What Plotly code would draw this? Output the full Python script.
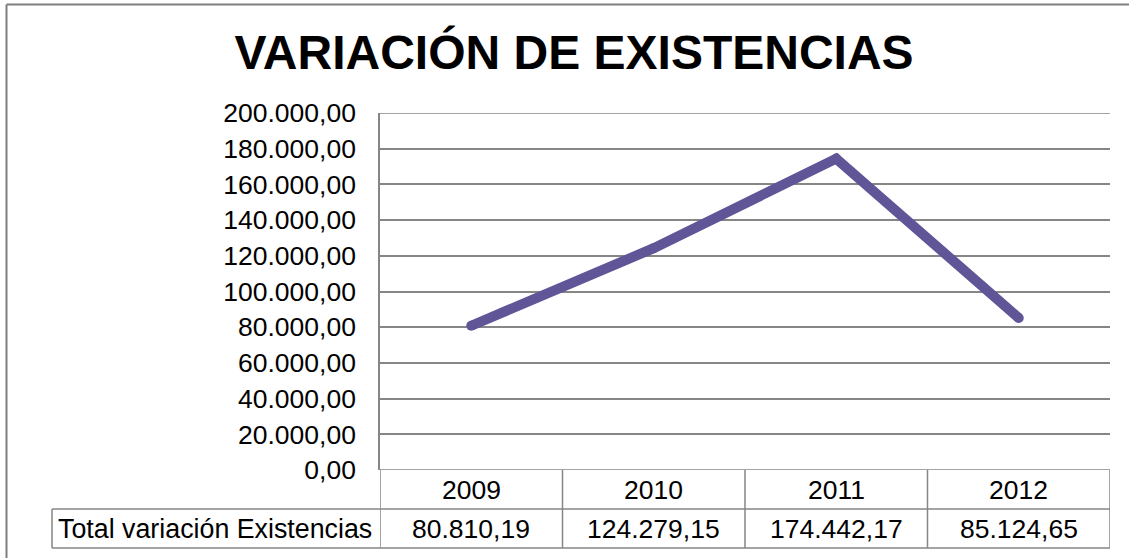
import plotly.graph_objects as go

# Datos
years = ['2009', '2010', '2011', '2012']
valores = [80810.19, 124279.15, 174442.17, 85124.65]
serie = 'Total variación Existencias'
y_ticks = list(range(0, 200001, 20000))

W, H = 1129, 558
GRID = '#868686'
FONT = 'Liberation Sans, Arial, sans-serif'


def px_x(x):
    return x / W


def px_y(y):
    return 1 - y / H


def es(v):
    # formato español 1.234,56
    return f'{v:,.2f}'.replace(',', '_').replace('.', ',').replace('_', '.')


fig = go.Figure()
fig.add_trace(go.Scatter(
    x=years, y=valores, mode='lines+markers', name=serie,
    line=dict(color='#5F5597', width=10),
    marker=dict(color='#5F5597', size=10),
    hoverinfo='skip'
))

shapes = []
# líneas de cuadrícula en los extremos (plotly no las dibuja en el borde)
for yv in (y_ticks[0], y_ticks[-1]):
    shapes.append(dict(type='line', xref='paper', yref='y', x0=px_x(380), x1=px_x(1110),
                       y0=yv, y1=yv, layer='below', line=dict(color=GRID, width=1.5)))
# tabla de datos bajo el eje
for i in range(len(years) + 1):
    shapes.append(dict(type='line', xref='x', yref='paper', x0=i - 0.5, x1=i - 0.5,
                       y0=px_y(470), y1=px_y(548), line=dict(color=GRID, width=1.5)))
for yy in (509, 548):
    shapes.append(dict(type='line', xref='paper', yref='paper', x0=px_x(52), x1=px_x(1110),
                       y0=px_y(yy), y1=px_y(yy), line=dict(color=GRID, width=1.5)))
shapes.append(dict(type='line', xref='paper', yref='paper', x0=px_x(52), x1=px_x(52),
                   y0=px_y(509), y1=px_y(548), line=dict(color=GRID, width=1.5)))
# borde exterior (solo arriba e izquierda visibles)
shapes.append(dict(type='line', xref='paper', yref='paper', x0=px_x(6.5), x1=1,
                   y0=px_y(4.5), y1=px_y(4.5), line=dict(color='#7f7f7f', width=2)))
shapes.append(dict(type='line', xref='paper', yref='paper', x0=px_x(6.5), x1=px_x(6.5),
                   y0=px_y(4.5), y1=0, line=dict(color='#7f7f7f', width=2)))

annotations = []
for i, (yr, v) in enumerate(zip(years, valores)):
    annotations.append(dict(x=i, xref='x', yref='paper', y=px_y(490), text=yr, showarrow=False,
                            font=dict(size=26.5, color='black', family=FONT), yanchor='middle'))
    annotations.append(dict(x=i, xref='x', yref='paper', y=px_y(528.5), text=es(v), showarrow=False,
                            font=dict(size=26.5, color='black', family=FONT), yanchor='middle'))
annotations.append(dict(x=px_x(215), xref='paper', yref='paper', y=px_y(528.5), text=serie,
                        showarrow=False, xanchor='center', yanchor='middle',
                        font=dict(size=26.8, color='black', family=FONT)))

fig.update_layout(
    width=W, height=H,
    margin=dict(l=0, r=0, t=0, b=0, autoexpand=False),
    paper_bgcolor='white', plot_bgcolor='white',
    separators=',.',
    showlegend=False,
    title=dict(text='<b>VARIACIÓN DE EXISTENCIAS</b>', x=px_x(574), xanchor='center',
               y=px_y(52), yanchor='middle', font=dict(size=48, color='black', family=FONT)),
    xaxis=dict(domain=[px_x(380), px_x(1110)], range=[-0.5, 3.5], type='category',
               showticklabels=False, showgrid=False, zeroline=False, showline=False,
               automargin=False),
    yaxis=dict(domain=[px_y(470), px_y(113)], range=[0, 200000], tickvals=y_ticks,
               tickformat=',.2f', showgrid=True, gridcolor=GRID, gridwidth=1.5,
               zeroline=False, showline=True, linecolor=GRID, linewidth=1.5,
               ticks='', ticklabelstandoff=17, automargin=False,
               tickfont=dict(size=26.5, color='black', family=FONT)),
    shapes=shapes,
    annotations=annotations,
)

# sin margen del body para que el gráfico ocupe la ventana exacta
fig.write_html('out.html', config={'displayModeBar': False},
               post_script="document.body.style.margin='0';")
